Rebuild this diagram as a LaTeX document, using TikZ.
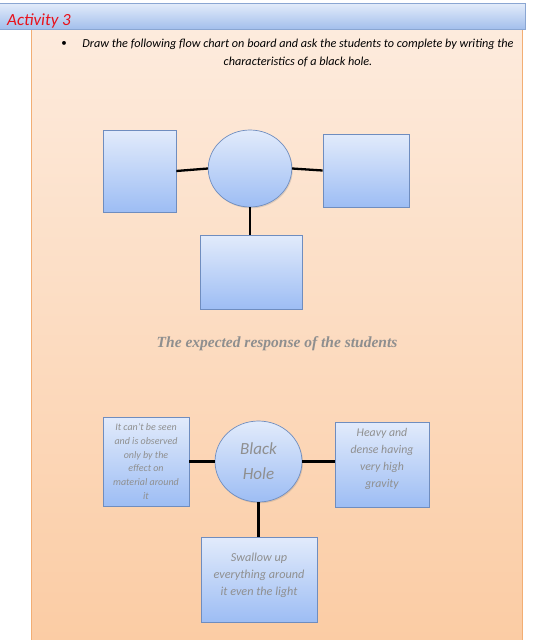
\documentclass[tikz,border=0pt]{standalone}
\usepackage{fontspec}
\setmainfont{Carlito}
\newfontfamily\headserif{Liberation Serif}
\usetikzlibrary{shapes.geometric,shadows}
\definecolor{panelTop}{HTML}{FDEBDD}
\definecolor{panelBot}{HTML}{FBCCA4}
\definecolor{panelBorder}{HTML}{F2AE74}
\definecolor{hdrTop}{HTML}{E3ECFA}
\definecolor{hdrBot}{HTML}{A3BFEC}
\definecolor{hdrBorder}{HTML}{8AA6D2}
\definecolor{boxTop}{HTML}{E2EBFB}
\definecolor{boxBot}{HTML}{9DBDF4}
\definecolor{boxBorder}{HTML}{6F8DBF}
\definecolor{greytext}{HTML}{8F8F8F}
\definecolor{actred}{HTML}{E8121B}
\tikzset{
  box/.style={draw=boxBorder, top color=boxTop, bottom color=boxBot, line width=0.7pt, inner sep=0pt,
    drop shadow={shadow xshift=1pt, shadow yshift=-1.3pt, opacity=0.25}},
  rectbox/.style={box, rectangle},
  ellbox/.style={box, ellipse},
  link/.style={line width=2.3pt, black},
  boxtext/.style={text=greytext, align=center, font=\itshape\fontsize{11.8}{17}\selectfont}
}
\begin{document}
\begin{tikzpicture}[x=1pt,y=-1pt]
\useasboundingbox (0,0) rectangle (538,640);
\fill[white] (0,0) rectangle (538,640);
% panel
\shade[top color=panelTop, bottom color=panelBot] (31,29) rectangle (522,641);
\draw[panelBorder, line width=1pt] (31,641) -- (31,29) -- (522,29) -- (522,641);
% header
\shade[top color=hdrTop, bottom color=hdrBot] (-1,3) rectangle (525,29);
\draw[hdrBorder, line width=0.8pt] (-1,3) -- (525,3) -- (525,29) -- (-1,29);
\node[anchor=base west, text=actred, font=\itshape\fontsize{17}{20}\selectfont, inner sep=0] (title) at (7,25) {Activity 3};
% instruction
\node[font=\fontsize{11}{13}\selectfont, inner sep=0] (bullet) at (64,44) {\textbullet};
\node[align=center, font=\itshape\fontsize{12.2}{17.5}\selectfont, inner sep=0] (instr) at (298,53)
  {Draw the following flow chart on board and ask the students to complete by writing the\\characteristics of a black hole.};
% top diagram
\node[rectbox, minimum width=73, minimum height=82] (tl) at (139.5,171) {};
\node[ellbox, minimum width=83.5, minimum height=77] (tc) at (250,168.5) {};
\node[rectbox, minimum width=86, minimum height=73] (tr) at (366,170.5) {};
\node[rectbox, minimum width=102, minimum height=74] (tb) at (251,272) {};
\draw[link] (tl.east) -- (tc.west);
\draw[link] (tc.east) -- (tr.west);
\draw[link] (tc.south) -- (tc.south |- tb.north);
% heading
\node[text=greytext, font=\headserif\bfseries\itshape\fontsize{15.5}{18}\selectfont] (head) at (277,343.5) {The expected response of the students};
% bottom diagram
\node[rectbox, minimum width=86, minimum height=89, boxtext, font=\itshape\fontsize{10}{13.8}\selectfont] (bl) at (146,461.5)
  {It can’t be seen\\and is observed\\only by the\\effect on\\material around\\it};
\node[ellbox, minimum width=87, minimum height=81, boxtext, font=\itshape\fontsize{17}{25}\selectfont] (bc) at (258.5,461.5) {Black\\Hole};
\node[rectbox, minimum width=94, minimum height=85, boxtext] (br) at (382,464.5)
  {Heavy and\\dense having\\very high\\gravity\\[-4pt]};
\node[rectbox, minimum width=116, minimum height=85, boxtext, font=\itshape\fontsize{12.2}{17}\selectfont] (bb) at (259,579.5)
  {Swallow up\\everything around\\it even the light\\[-6pt]};
\draw[link] (bl.east) -- (bc.west);
\draw[link] (bc.east) -- (bc.east -| br.west);
\draw[link] (bc.south) -- (bc.south |- bb.north);
\end{tikzpicture}
\end{document}
